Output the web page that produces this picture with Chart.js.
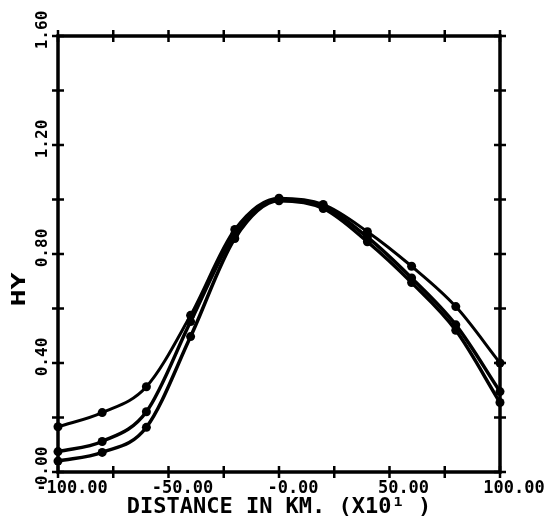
<!DOCTYPE html>
<html>
<head>
<meta charset="utf-8">
<script src="https://cdn.jsdelivr.net/npm/chart.js@4/dist/chart.umd.min.js"></script>
<style>
  html, body { margin: 0; padding: 0; background: #fff; }
  #wrap { width: 547px; height: 529px; }
</style>
</head>
<body>
<div id="wrap"><canvas id="c" width="547" height="529"></canvas></div>
<script>
// Sample positions along the section (km x 10)
const distanceKm = [-100, -80, -60, -40, -20, 0, 20, 40, 60, 80, 100];

// HY profiles
const hyUpper  = [0.166, 0.218, 0.313, 0.575, 0.890, 1.005, 0.982, 0.882, 0.755, 0.607, 0.400];
const hyMiddle = [0.075, 0.112, 0.221, 0.552, 0.873, 1.000, 0.975, 0.862, 0.712, 0.540, 0.295];
const hyLower  = [0.040, 0.072, 0.164, 0.497, 0.857, 0.995, 0.967, 0.845, 0.695, 0.520, 0.255];

// Axis labelling
const xTickValues = [-100, -50, 0, 50, 100];
const xTickLabels = ['-100.00', '-50.00', '-0.00', '50.00', '100.00'];
const yTickValues = [0, 0.4, 0.8, 1.2, 1.6];
const yTickLabels = ['0.00', '0.40', '0.80', '1.20', '1.60'];
const xTitle = 'DISTANCE IN KM. (X10\u00B9 )';
const yTitle = 'HY';

const MONO = '"DejaVu Sans Mono", "Liberation Mono", monospace';

function series(values) {
  return distanceKm.map((x, i) => ({ x: x, y: values[i] }));
}

function lineSet(values, width) {
  return {
    data: series(values),
    borderColor: '#000',
    backgroundColor: '#000',
    borderWidth: width,
    pointRadius: 4.5,
    pointHoverRadius: 4.5,
    pointBorderWidth: 0,
    pointBackgroundColor: '#000',
    cubicInterpolationMode: 'monotone',
    fill: false,
    clip: false
  };
}

// Boxed frame with crossing tick marks on all four sides, plus the
// rotated y tick labels and the y title.
const framePlugin = {
  id: 'frame',
  beforeDatasetsDraw(chart) {
    const { ctx, chartArea: a, scales: { x, y } } = chart;
    ctx.save();
    ctx.strokeStyle = '#000';
    ctx.lineCap = 'butt';
    ctx.lineWidth = 3.5;
    ctx.strokeRect(a.left, a.top, a.right - a.left, a.bottom - a.top);

    const half = 6;
    ctx.lineWidth = 2.5;
    ctx.beginPath();
    x.ticks.forEach(t => {
      const px = x.getPixelForValue(t.value);
      ctx.moveTo(px, a.top - half);    ctx.lineTo(px, a.top + half);
      ctx.moveTo(px, a.bottom - half); ctx.lineTo(px, a.bottom + half);
    });
    y.ticks.forEach(t => {
      const py = y.getPixelForValue(t.value);
      ctx.moveTo(a.left - half, py);  ctx.lineTo(a.left + half, py);
      ctx.moveTo(a.right - half, py); ctx.lineTo(a.right + half, py);
    });
    ctx.stroke();

    ctx.fillStyle = '#000';
    ctx.textAlign = 'center';
    ctx.textBaseline = 'middle';
    ctx.font = 'bold 16px ' + MONO;
    yTickValues.forEach((v, i) => {
      const py = y.getPixelForValue(v) - 6;
      ctx.save();
      ctx.translate(a.left - 15, py);
      ctx.rotate(-Math.PI / 2);
      ctx.fillText(yTickLabels[i], 0, 0);
      ctx.restore();
    });

    ctx.save();
    ctx.font = 'bold 19px ' + MONO;
    ctx.translate(a.left - 38, y.getPixelForValue(0.67));
    ctx.rotate(-Math.PI / 2);
    ctx.scale(1.5, 1);
    ctx.fillText(yTitle, 0, 0);
    ctx.restore();

    ctx.restore();
  }
};

new Chart(document.getElementById('c'), {
  type: 'line',
  data: {
    datasets: [
      lineSet(hyUpper, 3),
      lineSet(hyMiddle, 3.5),
      lineSet(hyLower, 3.5)
    ]
  },
  options: {
    responsive: false,
    animation: false,
    devicePixelRatio: 1,
    layout: { padding: { top: 36, right: 47, left: 0, bottom: 0 } },
    plugins: {
      legend: { display: false },
      tooltip: { enabled: false }
    },
    scales: {
      x: {
        type: 'linear',
        min: -100,
        max: 100,
        grid: { display: false, drawTicks: false },
        border: { display: false },
        afterFit(scale) { scale.height = 57; },
        ticks: {
          stepSize: 25,
          autoSkip: false,
          maxRotation: 0,
          minRotation: 0,
          padding: 8.5,
          labelOffset: 14,
          color: '#000',
          font: { family: MONO, size: 17, weight: 'bold', lineHeight: 1 },
          callback(value) {
            const i = xTickValues.indexOf(value);
            return i >= 0 ? xTickLabels[i] : '';
          }
        },
        title: {
          display: true,
          text: xTitle,
          color: '#000',
          font: { family: MONO, size: 22, weight: 'bold', lineHeight: 1 },
          padding: { top: 0, bottom: 11 }
        }
      },
      y: {
        type: 'linear',
        min: 0,
        max: 1.6,
        grid: { display: false, drawTicks: false },
        border: { display: false },
        afterFit(scale) { scale.width = 58; },
        ticks: { stepSize: 0.2, display: false },
        title: { display: false }
      }
    }
  },
  plugins: [framePlugin]
});
</script>
</body>
</html>
